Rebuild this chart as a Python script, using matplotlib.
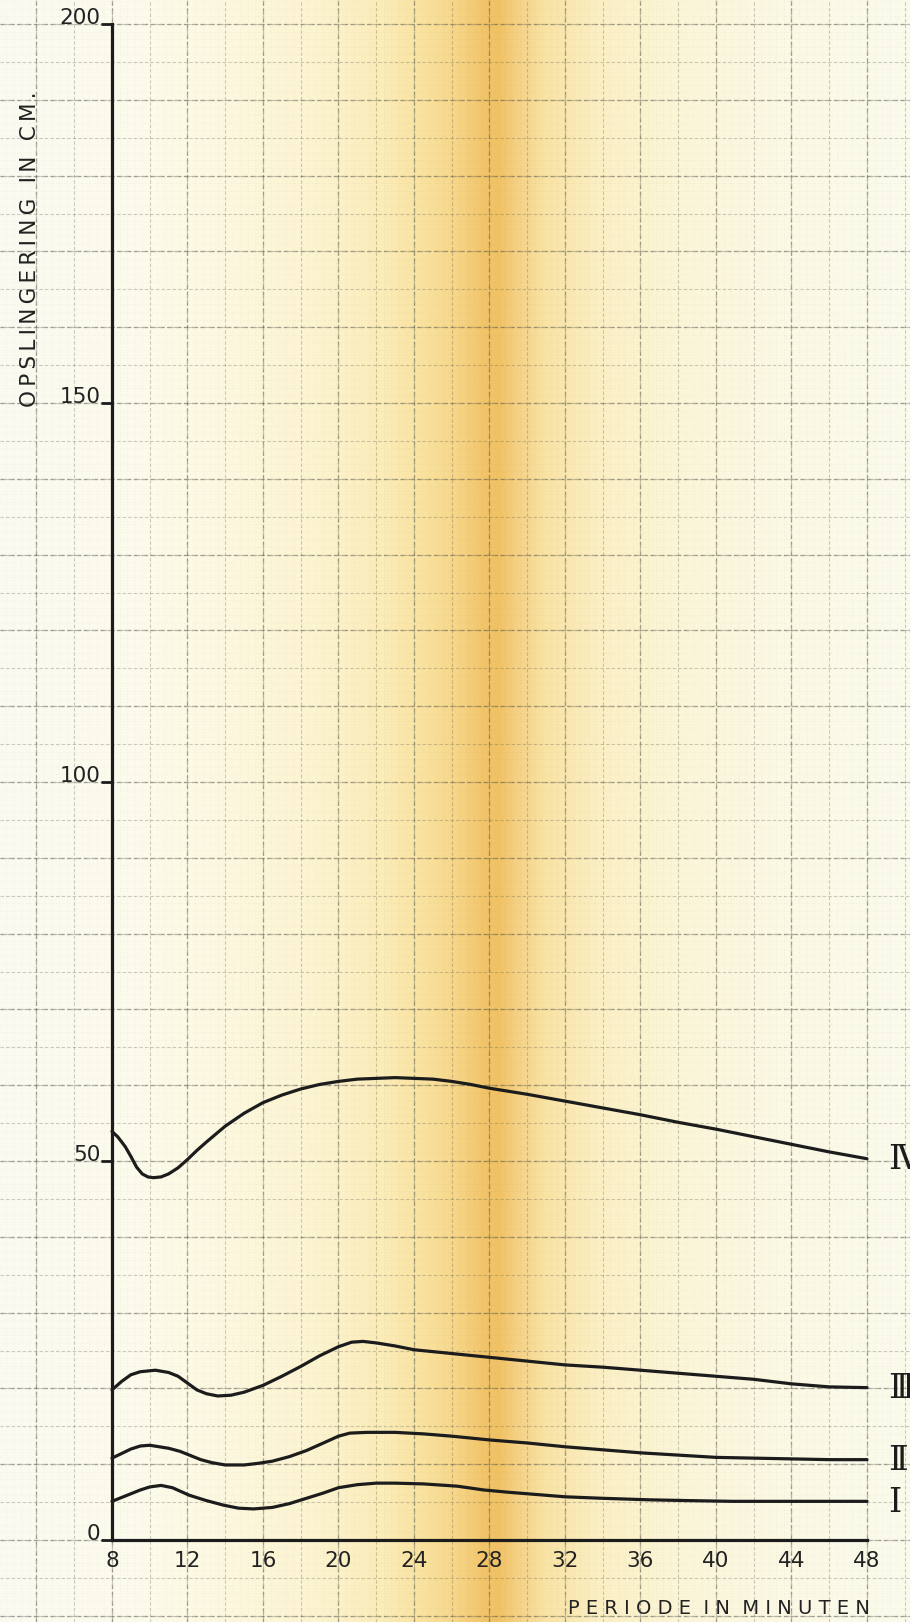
import numpy as np
import matplotlib.pyplot as plt
from matplotlib.colors import LinearSegmentedColormap

# periode (min) / opslingering (cm)
PERIOD_IV = [8.0, 8.3, 8.7, 9.0, 9.3, 9.6, 9.9, 10.2, 10.6, 11.0, 11.5, 12.0, 12.5, 13.0, 14.0, 15.0,
             16.0, 17.0, 18.0, 19.0, 20.0, 21.0, 22.0, 23.0, 24.0, 25.0, 26.0, 27.0, 28.0, 30.0,
             32.0, 34.0, 36.0, 38.0, 40.0, 42.0, 44.0, 46.0, 48.0]
OPSL_IV = [53.9, 53.2, 51.9, 50.6, 49.2, 48.3, 47.9, 47.8, 47.9, 48.3, 49.1, 50.2, 51.4, 52.5, 54.6, 56.3,
           57.7, 58.7, 59.5, 60.1, 60.5, 60.8, 60.9, 61.0, 60.9, 60.8, 60.5, 60.1, 59.6, 58.8,
           57.9, 57.0, 56.1, 55.1, 54.2, 53.2, 52.2, 51.2, 50.3]

PERIOD_III = [8.0, 8.5, 9.0, 9.5, 10.3, 11.0, 11.5, 12.0, 12.5, 13.0, 13.6, 14.3, 15.0, 16.0, 17.0,
              18.0, 19.0, 20.0, 20.7, 21.3, 22.0, 23.0, 24.0, 26.0, 28.0, 30.0, 32.0, 34.0, 36.0,
              38.0, 40.0, 42.0, 44.0, 46.0, 48.0]
OPSL_III = [19.8, 20.9, 21.8, 22.2, 22.4, 22.1, 21.6, 20.7, 19.8, 19.3, 19.0, 19.1, 19.5, 20.4, 21.6,
            22.9, 24.3, 25.5, 26.1, 26.2, 26.0, 25.6, 25.1, 24.6, 24.1, 23.6, 23.1, 22.8, 22.4,
            22.0, 21.6, 21.2, 20.6, 20.2, 20.1]

PERIOD_II = [8.0, 8.5, 9.0, 9.5, 10.0, 10.5, 11.0, 11.6, 12.2, 12.7, 13.3, 14.0, 15.0, 15.7, 16.5,
             17.4, 18.3, 19.2, 20.0, 20.6, 21.5, 23.0, 24.5, 26.0, 28.0, 30.0, 32.0, 34.0, 36.0,
             38.0, 40.0, 42.0, 44.0, 46.0, 48.0]
OPSL_II = [10.8, 11.4, 12.0, 12.4, 12.5, 12.3, 12.1, 11.7, 11.1, 10.6, 10.2, 9.9, 9.9, 10.1, 10.4,
           11.0, 11.8, 12.8, 13.7, 14.1, 14.2, 14.2, 14.0, 13.7, 13.2, 12.8, 12.3, 11.9, 11.5,
           11.2, 10.9, 10.8, 10.7, 10.6, 10.6]

PERIOD_I = [8.0, 8.7, 9.5, 10.0, 10.6, 11.2, 12.1, 13.0, 13.9, 14.7, 15.5, 16.5, 17.4, 18.3, 19.2,
            20.0, 21.0, 22.0, 23.0, 24.5, 26.3, 27.7, 29.0, 30.5, 32.0, 34.0, 36.5, 38.5, 40.9,
            44.0, 48.0]
OPSL_I = [5.1, 5.8, 6.6, 7.0, 7.2, 6.9, 5.9, 5.2, 4.6, 4.2, 4.1, 4.3, 4.8, 5.5, 6.2,
          6.9, 7.3, 7.5, 7.5, 7.4, 7.1, 6.6, 6.3, 6.0, 5.7, 5.5, 5.3, 5.2, 5.1,
          5.1, 5.1]

# roman numerals I..IV
CURVE_NAMES = ['\u2160', '\u2161', '\u2162', '\u2163']
X_TICKS = list(range(8, 49, 4))
Y_TICKS = [0, 50, 100, 150, 200]
X_LABEL = 'PERIODE IN MINUTEN'
Y_LABEL = 'OPSLINGERING IN CM.'

INK = '#1c1c1c'
TEXT = '#222222'
GRID = '#55554a'

fig = plt.figure(figsize=(9.1, 16.22), dpi=100)
ax = fig.add_axes([112 / 910, 82 / 1622, 755 / 910, 1516 / 1622])
ax.set_xlim(8, 48)
ax.set_ylim(0, 200)

# background "graph paper" axes over the whole figure, in the same data units
pos = ax.get_position()
dx = 40 / pos.width
dy = 200 / pos.height
bg_xlim = (8 - pos.x0 * dx, 48 + (1 - pos.x1) * dx)
bg_ylim = (0 - pos.y0 * dy, 200 + (1 - pos.y1) * dy)
bg = fig.add_axes([0, 0, 1, 1], zorder=0)
bg.set_xlim(bg_xlim)
bg.set_ylim(bg_ylim)
bg.axis('off')

paper = LinearSegmentedColormap.from_list('paper', [
    (0.00, '#fafaf1'), (0.15, '#fcfbeb'), (0.25, '#fcf8df'), (0.35, '#fcf3cf'),
    (0.42, '#fbecb8'), (0.47, '#f9e19c'), (0.505, '#f6d486'), (0.53, '#f2c56b'),
    (0.548, '#f1c264'), (0.57, '#f5d186'), (0.60, '#f9e3a4'), (0.66, '#fbefc4'),
    (0.76, '#fbf6da'), (0.88, '#fbf9e5'), (1.00, '#fbfbec')])
bg.imshow(np.linspace(0, 1, 800)[None, :], cmap=paper, aspect='auto',
          extent=(*bg_xlim, *bg_ylim), interpolation='bilinear', zorder=0)

# mm grid: 0.4 min / 1 cm, heavier every 5 and 10 lines
x0 = 8 - 0.4 * np.floor((8 - bg_xlim[0]) / 0.4)
xs = np.arange(x0, bg_xlim[1], 0.4)
kx = np.rint((xs - 8) / 0.4).astype(int)
ys = np.arange(np.ceil(bg_ylim[0]), bg_ylim[1], 1.0)
ky = np.rint(ys).astype(int)
for step, lw, alpha, dash in [(1, 0.4, 0.08, (0, (2, 3))), (5, 0.8, 0.28, (0, (3, 2))),
                              (10, 1.0, 0.38, (0, (4, 2)))]:
    bg.vlines(xs[kx % step == 0], *bg_ylim, colors=GRID, lw=lw, alpha=alpha,
              linestyles=dash, zorder=1)
    bg.hlines(ys[ky % step == 0], *bg_xlim, colors=GRID, lw=lw, alpha=alpha,
              linestyles=dash, zorder=1)

ax.set_zorder(2)
ax.patch.set_visible(False)
for side in ['top', 'right']:
    ax.spines[side].set_visible(False)
for side in ['left', 'bottom']:
    ax.spines[side].set_linewidth(2.3)
    ax.spines[side].set_color(INK)

ax.set_xticks(X_TICKS)
ax.set_yticks(Y_TICKS)
ax.tick_params(axis='x', length=0, pad=8, labelsize=15.5, labelcolor=TEXT)
ax.tick_params(axis='y', length=8, width=2, color=INK, pad=0.5, labelsize=15.5, labelcolor=TEXT)
for lab in ax.get_yticklabels():
    lab.set_verticalalignment('baseline')

curves = [(PERIOD_I, OPSL_I), (PERIOD_II, OPSL_II), (PERIOD_III, OPSL_III), (PERIOD_IV, OPSL_IV)]
for name, (px, py) in zip(CURVE_NAMES, curves):
    ax.plot(px, py, color=INK, lw=2.3, solid_capstyle='round', solid_joinstyle='round', clip_on=False)
    ax.annotate(name, xy=(px[-1], py[-1]), xytext=(15, -1), textcoords='offset points',
                ha='left', va='center', fontsize=24, family=['DejaVu Serif', 'DejaVu Sans'],
                color=INK, annotation_clip=False)

thin = '\u2009'
ax.set_ylabel(thin.join(Y_LABEL), fontsize=15.5, color=TEXT, va='center')
ax.yaxis.set_label_coords(-0.1086, 0.8516)
ax.set_xlabel('  '.join(' '.join(w) for w in X_LABEL.split()), fontsize=14, color=TEXT,
              ha='right', va='center')
ax.xaxis.set_label_coords(1.004, -0.0449)

plt.savefig('out.png', dpi=100)
plt.close()
